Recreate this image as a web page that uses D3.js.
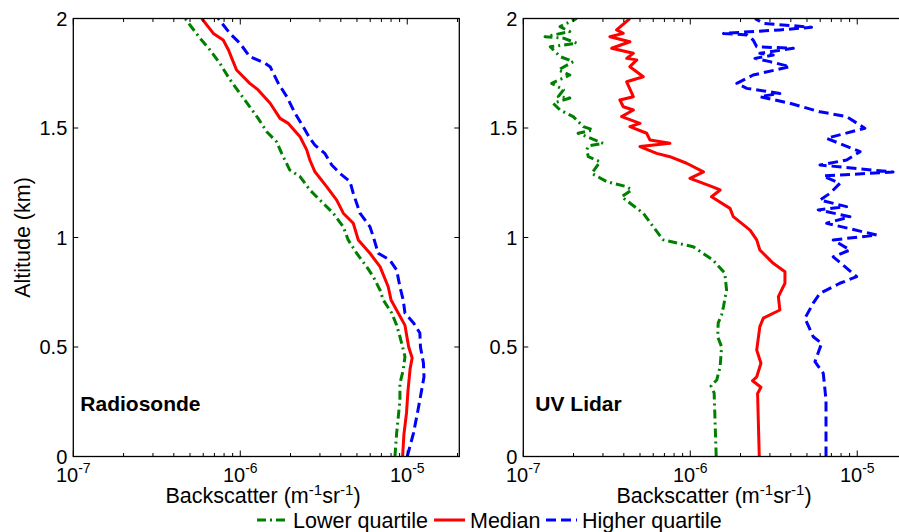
<!DOCTYPE html>
<html><head><meta charset="utf-8">
<script src="https://cdn.jsdelivr.net/npm/d3@7"></script>
<style>
body{margin:0;background:#fff;}
text{font-family:"Liberation Sans",Arial,Helvetica,sans-serif;fill:#000;}
</style></head>
<body>
<svg id="chart" width="899" height="532"></svg>
<script>
// ---------- DATA (altitude in km, backscatter in m^-1 sr^-1) ----------
const radLowerAlt = [0,0.107,0.182,0.258,0.334,0.395,0.456,0.5,0.547,0.6,0.655,0.715,0.76,0.821,0.867,0.928,0.989,1.049,1.111,1.156,1.217,1.278,1.308,1.384,1.437,1.483,1.544,1.597,1.658,1.721,1.795,1.856,1.91,2.0];
const radLowerVal = [8.44e-6,8.64e-6,8.84e-6,9.04e-6,9.04e-6,9.46e-6,9.69e-6,9.38e-6,9.04e-6,8.64e-6,8.07e-6,7.18e-6,6.87e-6,6.26e-6,5.71e-6,4.98e-6,4.43e-6,4.14e-6,3.6e-6,3.14e-6,2.61e-6,2.28e-6,1.98e-6,1.77e-6,1.65e-6,1.44e-6,1.28e-6,1.14e-6,9.95e-7,8.67e-7,7.55e-7,6.59e-7,5.74e-7,4.67e-7];

const radMedianAlt = [0,0.1,0.2,0.3,0.4,0.45,0.5,0.6,0.715,0.775,0.867,0.928,0.989,1.065,1.111,1.171,1.232,1.3,1.354,1.4,1.46,1.521,1.544,1.613,1.674,1.704,1.765,1.818,1.856,1.902,1.932,2.0];
const radMedianVal = [9.38e-6,9.55e-6,9.9e-6,1.01e-5,1.04e-5,1.07e-5,1.02e-5,9.68e-6,8.0e-6,7.69e-6,6.87e-6,5.98e-6,5.09e-6,4.75e-6,4.14e-6,3.78e-6,3.29e-6,2.8e-6,2.61e-6,2.5e-6,2.28e-6,1.94e-6,1.73e-6,1.51e-6,1.28e-6,1.14e-6,9.5e-7,8.9e-7,8.5e-7,7.9e-7,6.9e-7,5.88e-7];

const radHigherAlt = [0,0.107,0.212,0.304,0.364,0.427,0.5,0.564,0.61,0.655,0.715,0.775,0.852,0.897,0.928,1.004,1.049,1.111,1.202,1.255,1.293,1.331,1.384,1.422,1.453,1.506,1.567,1.643,1.704,1.78,1.795,1.826,1.887,1.932,2.0];
const radHigherVal = [1.0e-5,1.09e-5,1.16e-5,1.22e-5,1.26e-5,1.25e-5,1.2e-5,1.19e-5,1.09e-5,9.69e-6,9.46e-6,9.04e-6,8.64e-6,7.87e-6,6.7e-6,6.26e-6,5.98e-6,5.21e-6,4.75e-6,4.54e-6,3.95e-6,3.53e-6,3.21e-6,2.8e-6,2.61e-6,2.38e-6,2.13e-6,1.9e-6,1.69e-6,1.51e-6,1.41e-6,1.14e-6,9.95e-7,8.67e-7,7.38e-7];

const uvLowerAlt = [0,0.29,0.322,0.349,0.41,0.501,0.547,0.61,0.646,0.684,0.76,0.837,0.897,0.958,0.989,1.049,1.111,1.186,1.217,1.232,1.255,1.293,1.346,1.369,1.4,1.418,1.43,1.476,1.491,1.506,1.552,1.582,1.613,1.637,1.643,1.674,1.704,1.742,1.765,1.803,1.826,1.871,1.887,1.91,1.917,1.94,1.963,2.0];
const uvLowerVal = [1.43e-6,1.39e-6,1.33e-6,1.44e-6,1.51e-6,1.54e-6,1.46e-6,1.47e-6,1.54e-6,1.58e-6,1.65e-6,1.61e-6,1.37e-6,1.04e-6,6.89e-7,6.0e-7,5.23e-7,3.88e-7,4.46e-7,4.16e-7,3.16e-7,2.57e-7,2.88e-7,2.45e-7,2.4e-7,2.45e-7,3.01e-7,2.13e-7,2.62e-7,2.29e-7,1.99e-7,1.66e-7,1.51e-7,1.9e-7,1.62e-7,1.74e-7,1.48e-7,1.9e-7,1.62e-7,1.99e-7,1.66e-7,1.45e-7,2.09e-7,1.74e-7,1.35e-7,1.9e-7,1.66e-7,2.09e-7];

const uvMedianAlt = [0,0.288,0.316,0.346,0.364,0.426,0.486,0.593,0.632,0.669,0.73,0.791,0.844,0.882,0.943,0.989,1.034,1.095,1.133,1.186,1.217,1.232,1.27,1.3,1.339,1.369,1.384,1.415,1.43,1.445,1.476,1.506,1.521,1.552,1.582,1.597,1.628,1.643,1.711,1.734,1.78,1.811,1.818,1.841,1.864,1.894,1.917,1.932,1.948,2.0];
const uvMedianVal = [2.59e-6,2.53e-6,2.65e-6,2.36e-6,2.5e-6,2.65e-6,2.5e-6,2.61e-6,2.74e-6,3.44e-6,3.37e-6,3.69e-6,3.69e-6,3.14e-6,2.61e-6,2.5e-6,2.28e-6,1.81e-6,1.73e-6,1.34e-6,1.51e-6,1.35e-6,9.96e-7,1.2e-6,9.51e-7,7.55e-7,6.29e-7,5.0e-7,7.55e-7,5.74e-7,5.48e-7,4.35e-7,5.0e-7,3.88e-7,4.56e-7,3.97e-7,3.79e-7,4.56e-7,4.16e-7,5.23e-7,4.35e-7,4.78e-7,4.16e-7,4.56e-7,3.38e-7,4.35e-7,3.3e-7,3.97e-7,3.62e-7,4.35e-7];

const uvHigherAlt = [0,0.258,0.38,0.433,0.517,0.547,0.631,0.7,0.745,0.791,0.821,0.912,0.943,0.989,1.011,1.065,1.095,1.126,1.141,1.171,1.202,1.247,1.281,1.299,1.331,1.354,1.392,1.453,1.499,1.552,1.574,1.613,1.643,1.658,1.681,1.704,1.742,1.78,1.803,1.818,1.833,1.841,1.864,1.871,1.902,1.925,1.932,1.948,1.96,1.978,2.0];
const uvHigherVal = [6.5e-6,6.5e-6,6.26e-6,5.58e-6,6.12e-6,5.45e-6,4.86e-6,5.45e-6,5.98e-6,7.87e-6,9.92e-6,7.18e-6,9.04e-6,7.18e-6,1.31e-5,6.56e-6,9.04e-6,5.84e-6,8.64e-6,5.98e-6,6.87e-6,7.87e-6,6.26e-6,1.64e-5,5.98e-6,8.64e-6,1.04e-5,6.56e-6,1.11e-5,8.64e-6,5.98e-6,3.95e-6,2.61e-6,3.44e-6,2.18e-6,1.9e-6,2.38e-6,3.95e-6,3.0e-6,2.44e-6,3.14e-6,2.61e-6,4.14e-6,2.5e-6,2.38e-6,2.18e-6,1.58e-6,3.44e-6,5.33e-6,2.74e-6,2.44e-6];

const yTicks = [0, 0.5, 1, 1.5, 2];
const xMajorExp = [-7, -6, -5];
const panelNames = ["Radiosonde", "UV Lidar"];
const legendNames = ["Lower quartile", "Median", "Higher quartile"];
const xDomain = [1e-7, 2.05e-5];
const yDomain = [0, 2];

// ---------- STYLE ----------
const colors = ["#008000", "#ff0000", "#0000ff"];
const dashes = ["9,4,2,4", null, "10,5"];
const lineW = 3;

const svg = d3.select("#chart");
const panels = [
  {left: 73.3, right: 459.3, name: panelNames[0],
   series: [[radLowerAlt, radLowerVal],[radMedianAlt, radMedianVal],[radHigherAlt, radHigherVal]]},
  {left: 523.3, right: 909.3, name: panelNames[1],
   series: [[uvLowerAlt, uvLowerVal],[uvMedianAlt, uvMedianVal],[uvHigherAlt, uvHigherVal]]}
];
const plotTop = 18.5, plotBottom = 456.5;

panels.forEach((p, pi) => {
  const x = d3.scaleLog().domain(xDomain).range([p.left, p.right]);
  const y = d3.scaleLinear().domain(yDomain).range([plotBottom, plotTop]);
  const g = svg.append("g");

  const clipId = "clip" + pi;
  svg.append("clipPath").attr("id", clipId).append("rect")
    .attr("x", p.left).attr("y", plotTop).attr("width", p.right - p.left).attr("height", plotBottom - plotTop);

  // series
  const line = d3.line().x(d => x(d[1])).y(d => y(d[0]));
  p.series.forEach((s, si) => {
    const pts = s[0].map((a, i) => [a, s[1][i]]);
    g.append("path").datum(pts)
      .attr("clip-path", `url(#${clipId})`)
      .attr("d", line).attr("fill", "none")
      .attr("stroke", colors[si]).attr("stroke-width", lineW)
      .attr("stroke-linejoin", "round")
      .attr("stroke-dasharray", dashes[si]);
  });

  // ticks (inward), top & bottom log ticks
  const allTicks = [];
  for (let e = -7; e <= -5; e++) for (let m = 1; m <= 9; m++) {
    const v = m * Math.pow(10, e);
    if (v <= xDomain[1]) allTicks.push({v, major: m === 1});
  }
  allTicks.forEach(t => {
    const xx = x(t.v), len = t.major ? 6 : 3.5;
    g.append("line").attr("x1", xx).attr("x2", xx).attr("y1", plotBottom).attr("y2", plotBottom - len)
      .attr("stroke", "#000").attr("stroke-width", 1);
    g.append("line").attr("x1", xx).attr("x2", xx).attr("y1", plotTop).attr("y2", plotTop + len)
      .attr("stroke", "#000").attr("stroke-width", 1);
  });
  yTicks.forEach(t => {
    const yy = y(t);
    g.append("line").attr("x1", p.left).attr("x2", p.left + 5).attr("y1", yy).attr("y2", yy)
      .attr("stroke", "#000").attr("stroke-width", 1);
    g.append("line").attr("x1", p.right).attr("x2", p.right - 5).attr("y1", yy).attr("y2", yy)
      .attr("stroke", "#000").attr("stroke-width", 1);
    g.append("text").attr("x", p.left - 6).attr("y", yy).attr("dy", "0.36em")
      .attr("text-anchor", "end").attr("font-size", 20).text(d3.format("")(t));
  });

  // frame
  g.append("rect").attr("x", p.left).attr("y", plotTop).attr("width", p.right - p.left)
    .attr("height", plotBottom - plotTop).attr("fill", "none").attr("stroke", "#000").attr("stroke-width", 1.3);

  // x tick labels 10^e
  xMajorExp.forEach(e => {
    const t = g.append("text").attr("x", x(Math.pow(10, e))).attr("y", 482)
      .attr("text-anchor", "middle").attr("font-size", 20);
    t.append("tspan").text("10");
    t.append("tspan").attr("dy", -9).attr("font-size", 14).text(String(e));
  });

  // x axis label
  const xl = g.append("text").attr("x", pi === 0 ? 263 : 714).attr("y", 503)
    .attr("text-anchor", "middle").attr("font-size", 21.5);
  xl.append("tspan").text("Backscatter (m");
  xl.append("tspan").attr("dy", -8).attr("font-size", 15).text("-1");
  xl.append("tspan").attr("dy", 8).text("sr");
  xl.append("tspan").attr("dy", -8).attr("font-size", 15).text("-1");
  xl.append("tspan").attr("dy", 8).text(")");

  // panel name
  g.append("text").attr("x", p.left + (pi === 0 ? 7 : 12)).attr("y", 411)
    .attr("font-size", 21).attr("font-weight", "bold").text(p.name);
});

// y axis label
svg.append("text").attr("transform", `translate(30,${(plotTop + plotBottom) / 2}) rotate(-90)`)
  .attr("text-anchor", "middle").attr("font-size", 21.5).text("Altitude (km)");

// legend
const legX = [257, 434, 546];
const legY = 520;
legendNames.forEach((n, i) => {
  svg.append("line").attr("x1", legX[i]).attr("x2", legX[i] + 31).attr("y1", legY).attr("y2", legY)
    .attr("stroke", colors[i]).attr("stroke-width", lineW).attr("stroke-dasharray", dashes[i]);
  svg.append("text").attr("x", legX[i] + 36).attr("y", legY + 7.5).attr("font-size", 21.5).text(n);
});
</script>
</body></html>
